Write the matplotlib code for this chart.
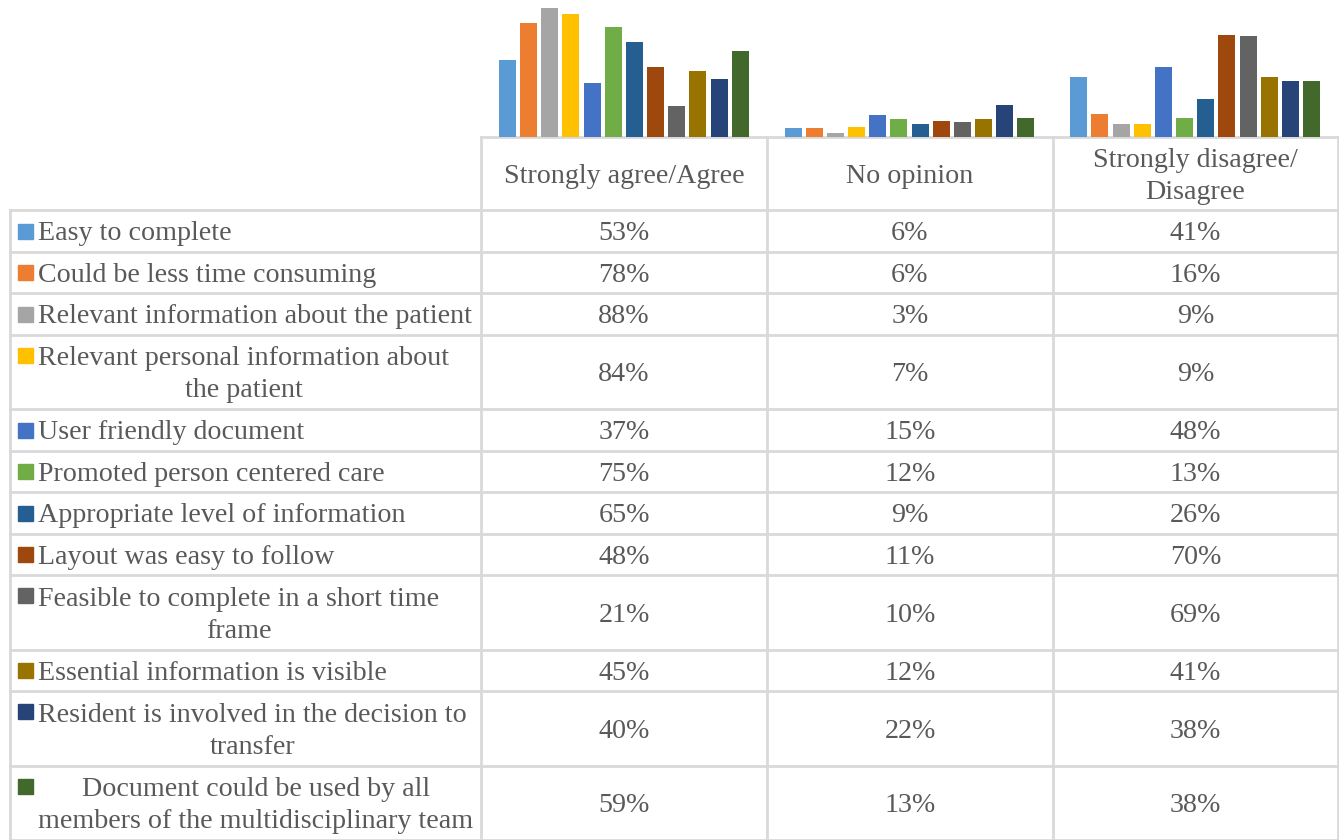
import matplotlib
matplotlib.use("Agg")
import matplotlib.pyplot as plt
from matplotlib.patches import Rectangle

plt.rcParams['font.family'] = ['Liberation Serif', 'DejaVu Serif']

# ---- data ----
categories = ["Strongly agree/Agree", "No opinion", "Strongly disagree/\nDisagree"]
series_labels = [
    "Easy to complete",
    "Could be less time consuming",
    "Relevant information about the patient",
    "Relevant personal information about\nthe patient",
    "User friendly document",
    "Promoted person centered care",
    "Appropriate level of information",
    "Layout was easy to follow",
    "Feasible to complete in a short time\nframe",
    "Essential information is visible",
    "Resident is involved in the decision to\ntransfer",
    "Document could be used by all\nmembers of the multidisciplinary team",
]
agree = [53, 78, 88, 84, 37, 75, 65, 48, 21, 45, 40, 59]
no_opinion = [6, 6, 3, 7, 15, 12, 9, 11, 10, 12, 22, 13]
disagree = [41, 16, 9, 9, 48, 13, 26, 70, 69, 41, 38, 38]
colors = ["#5B9BD5", "#ED7D31", "#A5A5A5", "#FFC000", "#4472C4", "#70AD47",
          "#255E91", "#9E480E", "#636363", "#997300", "#264478", "#43682B"]

values = [agree, no_opinion, disagree]

W, H = 1339, 840
fig = plt.figure(figsize=(W / 100, H / 100), dpi=100)
TXT = "#595959"
GRID = "#D9D9D9"
FS = 20.2
LS = 1.36

# ---- table axes in pixel coordinates ----
tax = fig.add_axes([0, 0, 1, 1])
tax.set_xlim(0, W)
tax.set_ylim(H, 0)
tax.axis("off")

col_x = [481, 767, 1053, 1338]
left_x = 10
header_top = 137
header_bot = 210
single_h = 41.8
double_h = 75

# row boundaries
bounds = [header_bot]
for lab in series_labels:
    n = lab.count("\n") + 1
    bounds.append(bounds[-1] + (single_h if n == 1 else double_h))
scale = (H - header_bot) / (bounds[-1] - header_bot)
bounds = [header_bot + (b - header_bot) * scale for b in bounds]

lw = 2.0
# header lines
tax.plot([col_x[0], col_x[-1]], [header_top, header_top], color=GRID, lw=lw, zorder=1)
for x in col_x:
    tax.plot([x, x], [header_top, H], color=GRID, lw=lw, zorder=1)
tax.plot([left_x, left_x], [header_bot, H], color=GRID, lw=lw, zorder=1)
for b in bounds:
    tax.plot([left_x, col_x[-1]], [b, b], color=GRID, lw=lw, zorder=1)

DY = 3
# header text
for j, cat in enumerate(categories):
    cx = (col_x[j] + col_x[j + 1]) / 2
    tax.text(cx, (header_top + header_bot) / 2 + DY, cat, ha="center", va="center",
             fontsize=FS, color=TXT, multialignment="center", linespacing=LS)

# rows
for i, lab in enumerate(series_labels):
    y0, y1 = bounds[i], bounds[i + 1]
    cy = (y0 + y1) / 2
    n = lab.count("\n") + 1
    tax.text(38, cy + DY, lab, ha="left", va="center", fontsize=FS, color=TXT,
             multialignment="center", linespacing=LS)
    sq_cy = cy - (n - 1) * 17
    tax.add_patch(Rectangle((18, sq_cy - 7), 15, 15, color=colors[i], zorder=2))
    for j in range(3):
        cx = (col_x[j] + col_x[j + 1]) / 2
        tax.text(cx, cy + DY, f"{values[j][i]}%", ha="center", va="center",
                 fontsize=FS, color=TXT)

# ---- bar chart axes ----
ymax = 90
px_per = 1.462
ax_h = ymax * px_per
bax = fig.add_axes([col_x[0] / W, (H - header_top) / H, (col_x[-1] - col_x[0]) / W, ax_h / H])
bax.set_xlim(-0.5, 2.5)
bax.set_ylim(0, ymax)
bax.axis("off")
slot = 0.0741
for i in range(len(series_labels)):
    xs = [j + (i - 5.5) * slot for j in range(3)]
    hs = [values[j][i] for j in range(3)]
    bax.bar(xs, hs, width=slot * 0.8, color=colors[i], edgecolor="none")

fig.savefig("out.png", dpi=100)
